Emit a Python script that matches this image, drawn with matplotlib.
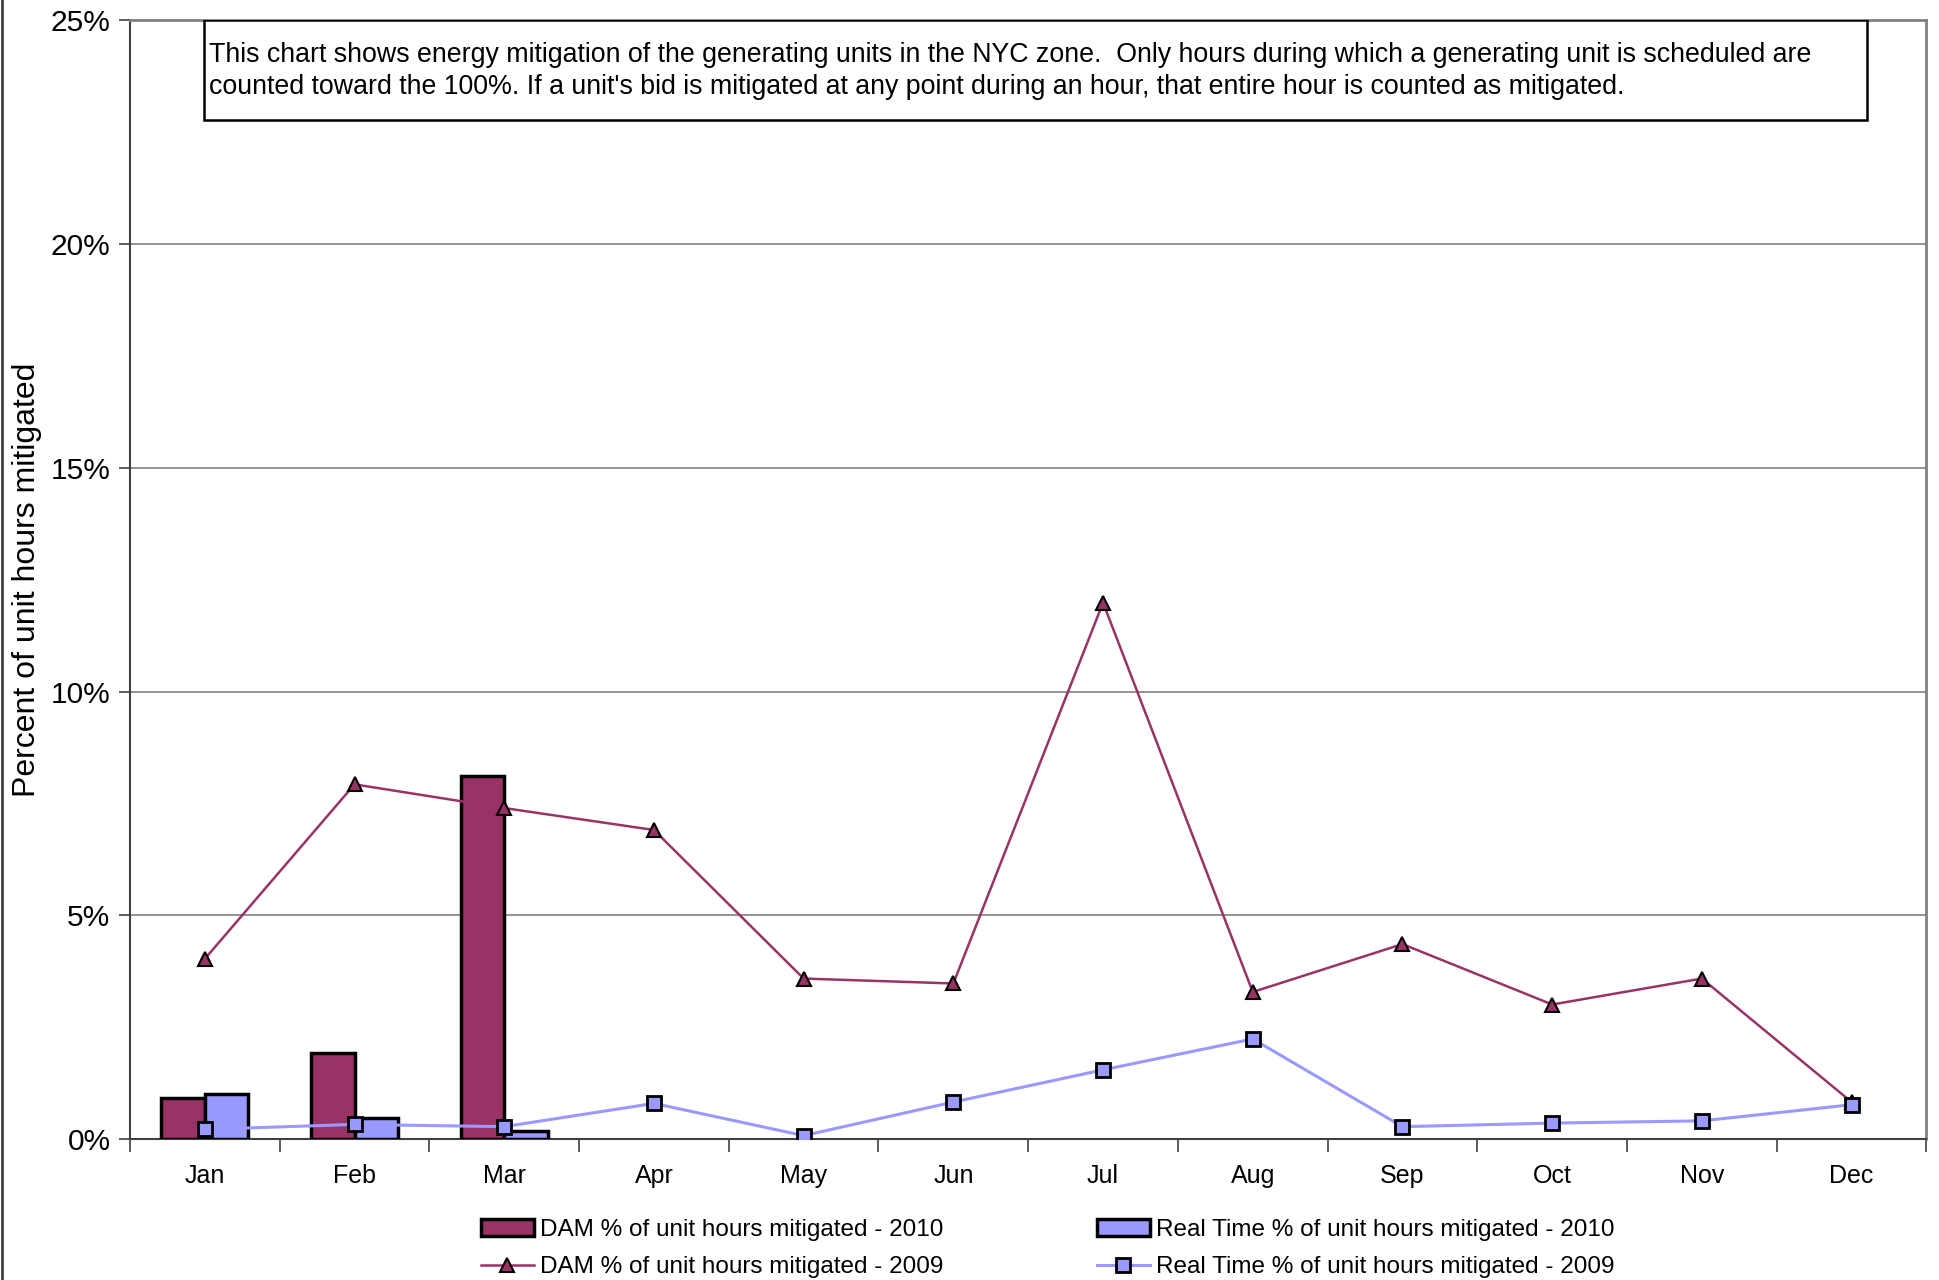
import numpy as np
import matplotlib as mpl
mpl.use('Agg')
import matplotlib.pyplot as plt
from matplotlib.patches import Rectangle
from matplotlib.lines import Line2D

plt.rcParams['font.family'] = ['Liberation Sans', 'DejaVu Sans']

months = ['Jan', 'Feb', 'Mar', 'Apr', 'May', 'Jun', 'Jul', 'Aug', 'Sep', 'Oct', 'Nov', 'Dec']
dam_2010 = [0.91, 1.93, 8.12]
rt_2010 = [1.02, 0.47, 0.19]
dam_2009 = [4.03, 7.93, 7.40, 6.91, 3.59, 3.48, 11.99, 3.29, 4.36, 3.01, 3.59, 0.83]
rt_2009 = [0.22, 0.33, 0.28, 0.80, 0.08, 0.83, 1.55, 2.24, 0.28, 0.36, 0.41, 0.77]

note = ("This chart shows energy mitigation of the generating units in the NYC zone.  Only hours during which a generating unit is scheduled are\n"
        "counted toward the 100%. If a unit's bid is mitigated at any point during an hour, that entire hour is counted as mitigated.")

c_dam = '#993366'
c_rt = '#9999FF'

fig = plt.figure(figsize=(19.4, 12.8), dpi=100)
ax = fig.add_axes([0.067, 0.110, 0.926, 0.874])

x = np.arange(len(months))
w = 0.29
x10 = np.arange(len(dam_2010))
b1 = ax.bar(x10 - w/2, dam_2010, w, color=c_dam, edgecolor='black', linewidth=2.5,
            label='DAM % of unit hours mitigated - 2010', zorder=3)
b2 = ax.bar(x10 + w/2, rt_2010, w, color=c_rt, edgecolor='black', linewidth=2.5,
            label='Real Time % of unit hours mitigated - 2010', zorder=3)
l1, = ax.plot(x, dam_2009, color=c_dam, linewidth=1.8, marker='^', markersize=10,
              markerfacecolor=c_dam, markeredgecolor='black', markeredgewidth=1.5,
              label='DAM % of unit hours mitigated - 2009', zorder=4)
l2, = ax.plot(x, rt_2009, color=c_rt, linewidth=2.2, marker='s', markersize=10,
              markerfacecolor=c_rt, markeredgecolor='black', markeredgewidth=2,
              label='Real Time % of unit hours mitigated - 2009', zorder=5)

ax.set_xlim(-0.5, len(months) - 0.5)
ax.set_ylim(0, 25)
ax.set_yticks(np.arange(0, 26, 5))
ax.set_yticklabels(['%d%%' % v for v in range(0, 26, 5)], fontsize=21.5)
ax.yaxis.grid(True, color='#808080', linewidth=1.2)
ax.set_axisbelow(True)
ax.tick_params(axis='y', length=8, width=1.2, color='#404040', pad=6)

ax.set_xticks(np.arange(-0.5, len(months), 1.0))
ax.set_xticklabels([])
ax.set_xticks(x, minor=True)
ax.set_xticklabels(months, minor=True, fontsize=18)
ax.tick_params(axis='x', which='major', length=9, width=1.2, color='#404040')
ax.tick_params(axis='x', which='minor', length=0, pad=18)

for s in ['top', 'right']:
    ax.spines[s].set_color('#808080')
    ax.spines[s].set_linewidth(2)
for s in ['left', 'bottom']:
    ax.spines[s].set_color('#404040')
    ax.spines[s].set_linewidth(1.5)

ax.set_ylabel('Percent of unit hours mitigated', fontsize=23)
ax.yaxis.set_label_coords(-0.049, 0.5)

ax.add_patch(Rectangle((0.041, 0.911), 0.926, 0.089, transform=ax.transAxes,
                       facecolor='white', edgecolor='black', linewidth=1.8, zorder=6))
ax.text(0.044, 0.955, note, transform=ax.transAxes, fontsize=19.3, va='center', ha='left',
        linespacing=1.32, zorder=7)

leg = fig.legend(handles=[b1, l1, b2, l2], ncol=2, loc='center', bbox_to_anchor=(0.540, 0.0245),
                 frameon=False, fontsize=17.5, handlelength=2.2, handletextpad=0.25,
                 columnspacing=6.3, labelspacing=0.62)

fig.add_artist(Line2D([0.001, 0.001], [0, 1], transform=fig.transFigure, color='#404040', linewidth=2))

fig.savefig('out.png', dpi=100)
